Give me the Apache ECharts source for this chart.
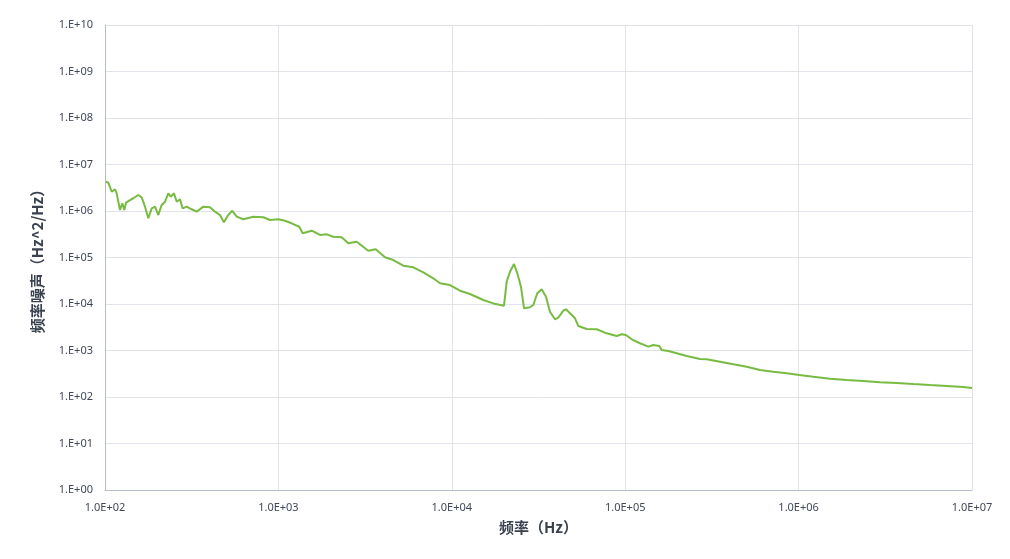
<!DOCTYPE html>
<html>
<head>
<meta charset="utf-8">
<script src="https://cdn.jsdelivr.net/npm/echarts@6/dist/echarts.min.js"></script>
<style>html,body{margin:0;padding:0;background:#fff}#c{width:1010px;height:559px}</style>
</head>
<body>
<div id="c"></div>
<script>
const freq = [101,104.5,109.3,114.2,116.8,122,125.8,129.2,132.2,139.4,145.6,155.6,162.8,170.1,177.7,185.9,194.2,203,212.3,221.8,231.7,239.3,250,259.2,270.7,280.6,296,316,338,369,403,431,460,485,514,542,575,628,716,818,895,999,1091,1193,1319,1381,1556,1738,1899,2073,2317,2529,2829,3298,3640,4119,4600,5253,5998,6848,7820,8551,9764,11150,12730,15200,17350,20000,20730,21660,22850,23870,25060,26090,28250,29520,31120,32990,34940,36830,39360,41110,43950,45570,48060,51330,53650,59980,68480,78200,89300,95500,101000,109000,121700,135900,145200,157300,162400,177300,198200,226300,270100,295100,352200,420200,502000,599700,714500,853100,1009000,1216000,1517000,1893000,2360000,2940000,3680000,4590000,5730000,7140000,8910000,10000000];
const noise = [4.27e6,4.06e6,2.6e6,2.93e6,2.4e6,1.05e6,1.47e6,1.05e6,1.51e6,1.72e6,1.88e6,2.21e6,1.97e6,1.24e6,6.97e5,1.14e6,1.24e6,8.2e5,1.35e6,1.58e6,2.4e6,2.03e6,2.4e6,1.58e6,1.79e6,1.14e6,1.24e6,1.09e6,9.66e5,1.24e6,1.2e6,9.66e5,8.2e5,5.71e5,8.2e5,1.01e6,7.55e5,6.64e5,7.55e5,7.32e5,6.4e5,6.64e5,6.18e5,5.44e5,4.59e5,3.31e5,3.77e5,3.05e5,3.15e5,2.8e5,2.72e5,2.02e5,2.19e5,1.4e5,1.5e5,1.01e5,8.83e4,6.66e4,6.15e4,4.81e4,3.57e4,2.79e4,2.56e4,1.93e4,1.64e4,1.22e4,1.03e4,9.19e3,3.02e4,4.95e4,7.25e4,4.57e4,2.36e4,8.09e3,8.5e3,9.5e3,1.7e4,2.07e4,1.44e4,6.83e3,4.69e3,5.07e3,7.18e3,7.69e3,6.31e3,4.92e3,3.37e3,2.9e3,2.86e3,2.34e3,2.05e3,2.23e3,2.15e3,1.74e3,1.43e3,1.21e3,1.31e3,1.25e3,1.03e3,975,871,762,656,647,574,505,449,381,350,324,297,273,248,232,221,207,200,190,181,173,164,156];
const xName = '频率（Hz）';
const yName = '频率噪声（Hz^2/Hz）';

function expStr(v){ const e = Math.round(Math.log10(v)); return (e<0?'-':'+') + String(Math.abs(e)).padStart(2,'0'); }

const chart = echarts.init(document.getElementById('c'));
chart.setOption({
  animation:false,
  grid:{left:105,right:38,top:25,bottom:69},
  xAxis:{
    type:'log', logBase:10, min:100, max:1e7, interval:1,
    name:xName, nameLocation:'middle', nameGap:30,
    nameTextStyle:{fontSize:15,fontWeight:'bold',color:'#3a4250',fontFamily:'Noto Sans CJK SC'},
    axisLine:{lineStyle:{color:'#b4bccb'}},
    axisTick:{show:false},
    axisLabel:{margin:12,fontSize:11,color:'#404858',fontFamily:'Noto Sans',formatter:v=>'1.0E'+expStr(v)},
    splitLine:{show:true,lineStyle:{color:'#e0e3ea'}},
    minorTick:{show:false}
  },
  yAxis:{
    type:'log', logBase:10, min:1, max:1e10, interval:1,
    name:yName, nameLocation:'middle', nameGap:60, nameRotate:90,
    nameTextStyle:{fontSize:15,fontWeight:'bold',color:'#3a4250',fontFamily:'Noto Sans CJK SC'},
    axisLine:{show:true,lineStyle:{color:'#b4bccb'}},
    axisTick:{show:false},
    axisLabel:{margin:12,fontSize:11,color:'#404858',fontFamily:'Noto Sans',formatter:v=>'1.E'+expStr(v)},
    splitLine:{show:true,lineStyle:{color:'#e0e3ea'}}
  },
  series:[{
    type:'line',
    data:freq.map((f,i)=>[f,noise[i]]),
    showSymbol:false,
    lineStyle:{color:'#78bb42',width:2},
    itemStyle:{color:'#78bb42'}
  }]
});
</script>
</body>
</html>
